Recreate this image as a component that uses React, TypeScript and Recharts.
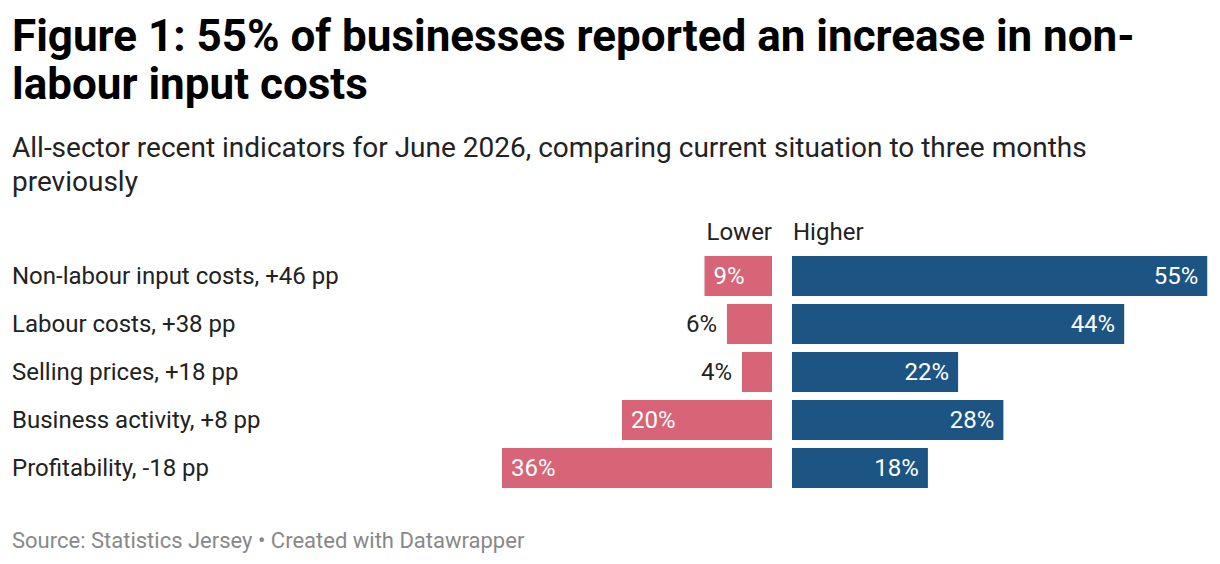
import React from "react";
import { BarChart, Bar, XAxis, YAxis, LabelList } from "recharts";

const categories = [
  "Non-labour input costs, +46 pp",
  "Labour costs, +38 pp",
  "Selling prices, +18 pp",
  "Business activity, +8 pp",
  "Profitability, -18 pp",
];
const lowerValues = [9, 6, 4, 20, 36];
const higherValues = [55, 44, 22, 28, 18];

const PINK = "#d76477";
const BLUE = "#1c5483";
const FONT = "Roboto, 'Noto Sans', sans-serif";

const data = categories.map((name, i) => ({
  name,
  lower: lowerValues[i],
  higher: higherValues[i],
}));

// roughly 7.5 px per percentage point on both sides
const LOWER_DOMAIN = 60;
const LOWER_PX = 7.5;
const HIGHER_DOMAIN = 56;
const HIGHER_PX = 7.55;

const RowTick = (props: any) => {
  const { y, payload } = props;
  return (
    <text x={12} y={y} dominantBaseline="central" textAnchor="start" fontSize={24} fill="#222" fontFamily={FONT}>
      {payload.value}
    </text>
  );
};

const LowerLabel = (props: any) => {
  const { x, y, width, height, value } = props;
  const left = Math.min(x, x + width);
  const w = Math.abs(width);
  const cy = y + height / 2;
  if (w < 55) {
    return (
      <text x={left - 10} y={cy} dominantBaseline="central" textAnchor="end" fontSize={24} fill="#222" fontFamily={FONT}>
        {value}%
      </text>
    );
  }
  return (
    <text x={left + 9} y={cy} dominantBaseline="central" textAnchor="start" fontSize={24} fill="#fff" fontFamily={FONT}>
      {value}%
    </text>
  );
};

const HigherLabel = (props: any) => {
  const { x, y, width, height, value } = props;
  return (
    <text x={x + width - 9} y={y + height / 2} dominantBaseline="central" textAnchor="end" fontSize={24} fill="#fff" fontFamily={FONT}>
      {value}%
    </text>
  );
};

export default function App() {
  return (
    <div style={{ position: "absolute", left: 0, top: 0, width: 1220, height: 564, background: "#fff", fontFamily: FONT, color: "#000" }}>
      <div style={{ position: "absolute", left: 12, top: 12, width: 1196, fontSize: 44, lineHeight: "48px", fontWeight: 700, color: "#000" }}>
        Figure 1: 55% of businesses reported an increase in non-labour input costs
      </div>
      <div style={{ position: "absolute", left: 12, top: 131, width: 1196, fontSize: 28, lineHeight: "34px", color: "#222" }}>
        All-sector recent indicators for June 2026, comparing current situation to three months previously
      </div>

      <div style={{ position: "absolute", right: 1220 - 772, top: 217, fontSize: 24, lineHeight: "30px", color: "#222" }}>Lower</div>
      <div style={{ position: "absolute", left: 793, top: 217, fontSize: 24, lineHeight: "30px", color: "#222" }}>Higher</div>

      <div style={{ position: "absolute", left: 0, top: 252 }}>
        <BarChart
          width={772}
          height={240}
          data={data}
          layout="vertical"
          margin={{ top: 0, right: 0, bottom: 0, left: 0 }}
        >
          <XAxis type="number" domain={[0, LOWER_DOMAIN]} reversed hide />
          <YAxis
            type="category"
            dataKey="name"
            width={772 - LOWER_DOMAIN * LOWER_PX}
            axisLine={false}
            tickLine={false}
            tick={<RowTick />}
          />
          <Bar dataKey="lower" fill={PINK} barSize={40} isAnimationActive={false}>
            <LabelList dataKey="lower" content={<LowerLabel />} />
          </Bar>
        </BarChart>
      </div>

      <div style={{ position: "absolute", left: 792, top: 252 }}>
        <BarChart
          width={HIGHER_DOMAIN * HIGHER_PX}
          height={240}
          data={data}
          layout="vertical"
          margin={{ top: 0, right: 0, bottom: 0, left: 0 }}
        >
          <XAxis type="number" domain={[0, HIGHER_DOMAIN]} hide />
          <YAxis type="category" dataKey="name" hide width={0} />
          <Bar dataKey="higher" fill={BLUE} barSize={40} isAnimationActive={false}>
            <LabelList dataKey="higher" content={<HigherLabel />} />
          </Bar>
        </BarChart>
      </div>

      <div style={{ position: "absolute", left: 12, top: 527, fontSize: 22, lineHeight: "28px", color: "#888" }}>
        Source: Statistics Jersey • Created with Datawrapper
      </div>
    </div>
  );
}
